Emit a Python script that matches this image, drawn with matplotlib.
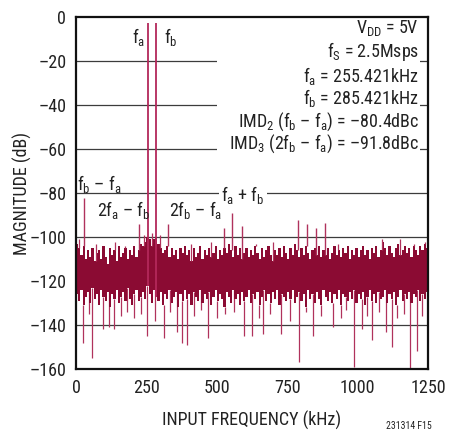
import numpy as np
import matplotlib
matplotlib.use("Agg")
import matplotlib.pyplot as plt
from matplotlib import font_manager
from matplotlib.patches import Rectangle


def pick_font():
    fl = font_manager.fontManager.ttflist
    for fam in ["Liberation Sans Narrow", "Arial Narrow", "Roboto Condensed",
                "Noto Sans Condensed", "Open Sans Condensed"]:
        if any(f.name == fam for f in fl):
            return fam, "normal"
    for fam in ["Noto Sans", "DejaVu Sans", "Open Sans", "Roboto"]:
        if any(f.name == fam and str(f.stretch) in ("condensed", "semi-condensed")
               for f in fl):
            return fam, "condensed"
    return "Liberation Sans", "normal"


FONT, STRETCH = pick_font()
plt.rcParams["font.family"] = [FONT, "DejaVu Sans"]
plt.rcParams["font.stretch"] = STRETCH
plt.rcParams["mathtext.fontset"] = "custom"
plt.rcParams["mathtext.rm"] = f"{FONT}:stretch={STRETCH}"
plt.rcParams["mathtext.it"] = f"{FONT}:stretch={STRETCH}"
plt.rcParams["mathtext.bf"] = f"{FONT}:bold:stretch={STRETCH}"

# ---- data ----
bin_khz = 7.8125  # 160 bins across 0..1250 kHz

noise_top = [
    -103, -105, -108, -104, -110, -106, -109, -105, -111, -107,
    -106, -110, -104, -109, -112, -105, -108, -106, -111, -104,
    -109, -107, -105, -110, -106, -108, -104, -109, -106, -103,
    -104, -102, -100, -101, -104, -101, -100, -103, -105, -107,
    -106, -104, -109, -105, -108, -106, -110, -105, -107, -104,
    -108, -106, -111, -105, -109, -107, -104, -110, -106, -108,
    -105, -109, -107, -104, -110, -106, -108, -105, -107, -103,
    -106, -109, -104, -108, -105, -110, -107, -105, -109, -106,
    -108, -104, -107, -110, -105, -109, -106, -104, -108, -111,
    -106, -108, -105, -109, -104, -107, -110, -105, -108, -103,
    -106, -109, -105, -108, -104, -107, -110, -106, -105, -108,
    -104, -109, -106, -108, -105, -110, -107, -104, -108, -106,
    -109, -105, -107, -104, -110, -106, -108, -105, -109, -106,
    -104, -108, -106, -110, -105, -107, -104, -109, -106, -102,
    -105, -108, -104, -107, -109, -105, -103, -108, -106, -104,
    -107, -105, -109, -104, -106, -108, -104, -106, -103, -105,
]
noise_bottom = [
    -126, -129, -124, -131, -127, -125, -130, -123, -128, -126,
    -131, -124, -127, -129, -125, -132, -126, -128, -124, -130,
    -127, -125, -129, -123, -128, -131, -126, -124, -129, -127,
    -125, -128, -122, -126, -130, -124, -127, -129, -125, -131,
    -126, -128, -124, -130, -127, -125, -132, -126, -129, -124,
    -128, -126, -131, -125, -127, -129, -124, -130, -126, -128,
    -125, -131, -127, -124, -129, -126, -128, -132, -125, -127,
    -130, -124, -128, -126, -131, -125, -129, -127, -124, -130,
    -126, -128, -125, -131, -127, -124, -129, -126, -130, -125,
    -128, -124, -131, -126, -127, -129, -125, -128, -124, -130,
    -127, -125, -129, -126, -132, -124, -128, -126, -130, -125,
    -128, -131, -124, -127, -129, -125, -130, -126, -128, -124,
    -131, -126, -127, -129, -125, -128, -124, -130, -126, -128,
    -125, -131, -127, -124, -129, -126, -130, -125, -128, -127,
    -124, -130, -126, -128, -125, -131, -127, -124, -129, -126,
    -128, -125, -130, -126, -127, -124, -129, -126, -128, -125,
]

# the two input tones
tone_khz = [255.421, 285.421]
tone_db = [-2.5, -2.5]

# spurs standing above the noise floor
spur_khz = [30, 225, 325, 524, 554, 588, 787, 819, 854, 886]
spur_db = [-82, -94, -94, -96, -89, -95, -92, -94, -96, -93.5]

# thin noise peaks just above the band
peak_khz = [12, 70, 140, 175, 240, 270, 300, 410, 480, 640, 700, 930, 1085,
            1150, 1200, 1240]
peak_db = [-101, -103, -102, -104, -99, -98, -99, -103, -102, -103, -102,
           -103, -101, -101, -103, -102]

# thin dips below the noise floor
dip_khz = [25, 45, 57, 95, 117, 135, 160, 180, 205, 230, 252, 280, 312, 335,
           358, 376, 394, 420, 445, 469, 500, 530, 560, 597, 625, 650, 665,
           690, 728, 760, 792, 815, 842, 870, 913, 940, 960, 987, 1015, 1035,
           1051, 1075, 1100, 1122, 1140, 1165, 1186, 1211, 1230]
dip_db = [-148, -135, -155, -142, -141, -142, -136, -134, -137, -135, -145,
          -138, -146, -134, -143, -148, -149, -136, -133, -146, -137, -135,
          -134, -145, -145, -137, -144, -135, -144, -138, -157, -134, -145,
          -136, -141, -137, -133, -159, -142, -136, -147, -134, -143, -150,
          -137, -135, -161, -152, -136]

x_ticks = [0, 250, 500, 750, 1000, 1250]
y_ticks = [0, -20, -40, -60, -80, -100, -120, -140, -160]
y_tick_labels = ["0", "–20", "–40", "–60", "–80", "–100", "–120", "–140", "–160"]

notes = [
    r"V$_{\mathregular{DD}}$ = 5V",
    r"f$_{\mathregular{S}}$ = 2.5Msps",
    r"f$_{\mathregular{a}}$ = 255.421kHz",
    r"f$_{\mathregular{b}}$ = 285.421kHz",
    r"IMD$_{\mathregular{2}}$ (f$_{\mathregular{b}}$ – f$_{\mathregular{a}}$) = –80.4dBc",
    r"IMD$_{\mathregular{3}}$ (2f$_{\mathregular{b}}$ – f$_{\mathregular{a}}$) = –91.8dBc",
]
note_y = [-7.2, -17.8, -29.2, -39.4, -49.8, -59.8]

NOISE = "#8b0b33"
SPIKE = "#b0325c"
INK = "#222222"


def bin_of(f):
    return min(int(f / bin_khz), len(noise_top) - 1)


def main():
    fig = plt.figure(figsize=(4.49, 4.36), dpi=100)
    ax = fig.add_axes([76 / 449, 1 - 369 / 436, 352 / 449, 351.5 / 436])

    freq = (np.arange(len(noise_top)) + 0.5) * bin_khz

    for y in y_ticks[1:-1]:
        ax.axhline(y, color="#3c3c3c", lw=0.9, zorder=1)
    # white area behind the condition text
    ax.add_patch(Rectangle((500, -65), 720, 65, facecolor="white",
                           edgecolor="none", zorder=1.5))

    dip_base = [noise_bottom[bin_of(f)] for f in dip_khz]
    ax.vlines(dip_khz, dip_base, dip_db, color=SPIKE, lw=0.9, zorder=2)
    ax.fill_between(freq, noise_bottom, noise_top, step="mid", color=NOISE,
                    lw=0, zorder=2.2)
    peak_base = [noise_top[bin_of(f)] for f in peak_khz]
    ax.vlines(peak_khz, peak_base, peak_db, color=SPIKE, lw=0.9, zorder=2.3)
    spur_base = [noise_top[bin_of(f)] for f in spur_khz]
    ax.vlines(spur_khz, spur_base, spur_db, color=SPIKE, lw=1.0, zorder=2.3)
    tone_base = [noise_bottom[bin_of(f)] for f in tone_khz]
    ax.vlines(tone_khz, tone_base, tone_db, color="#b3285a", lw=1.3, zorder=2.4)

    ax.set_xlim(0, 1250)
    ax.set_ylim(-160, 0)
    ax.set_xticks(x_ticks)
    ax.set_yticks(y_ticks)
    ax.set_yticklabels(y_tick_labels)
    ax.tick_params(length=0, labelsize=13, colors=INK, pad=7)
    for s in ax.spines.values():
        s.set_linewidth(1.6)
        s.set_color("#111111")
    ax.set_xlabel("INPUT FREQUENCY (kHz)", fontsize=13, color=INK, labelpad=10)
    ax.set_ylabel("MAGNITUDE (dB)", fontsize=13, color=INK, labelpad=-2)

    fs = 13
    ax.text(tone_khz[0] - 10, -9, r"f$_{\mathregular{a}}$", ha="right", va="center",
            fontsize=fs, color=INK)
    ax.text(tone_khz[1] + 28, -9, r"f$_{\mathregular{b}}$", ha="left", va="center",
            fontsize=fs, color=INK)
    for txt, y in zip(notes, note_y):
        ax.text(1218, y, txt, ha="right", va="baseline", fontsize=fs, color=INK, zorder=3)

    ax.text(5, -78.3, r"f$_{\mathregular{b}}$ – f$_{\mathregular{a}}$", ha="left",
            va="baseline", fontsize=fs, color=INK)
    ax.text(75, -90.5, r"2f$_{\mathregular{a}}$ – f$_{\mathregular{b}}$", ha="left",
            va="baseline", fontsize=fs, color=INK)
    ax.text(330, -90.5, r"2f$_{\mathregular{b}}$ – f$_{\mathregular{a}}$", ha="left",
            va="baseline", fontsize=fs, color=INK)
    ax.text(593, -81, r"f$_{\mathregular{a}}$ + f$_{\mathregular{b}}$", ha="center",
            va="center", fontsize=fs, color=INK, zorder=3,
            bbox=dict(facecolor="white", edgecolor="none", pad=1.5))

    fig.text(0.962, 0.012, "231314 F15", ha="right", va="bottom", fontsize=7, color=INK)

    fig.savefig("out.png", dpi=100)


if __name__ == "__main__":
    main()
